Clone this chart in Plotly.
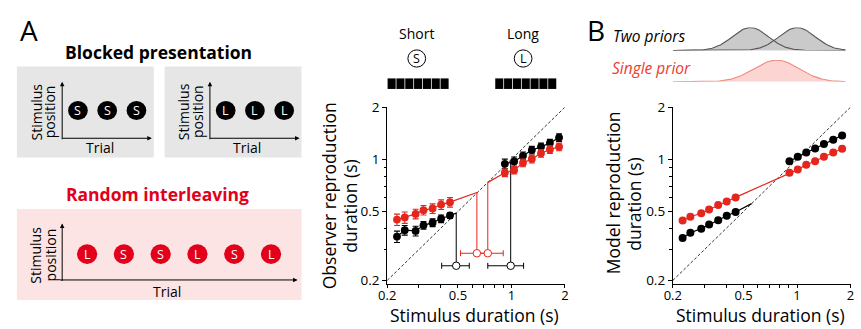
import math
import numpy as np
import plotly.graph_objects as go

W, H = 861, 329
FONT = "Open Sans"
RED = "#e4261d"
RED_TXT = "#e2001a"

# ------------------------- data -------------------------
short_x = [0.227, 0.251, 0.289, 0.320, 0.360, 0.402, 0.451]
A_long_x = [0.918, 1.035, 1.161, 1.302, 1.466, 1.645, 1.853]
B_long_x = [0.906, 1.009, 1.126, 1.263, 1.416, 1.597, 1.792]

A_black_short = [0.358, 0.390, 0.386, 0.416, 0.431, 0.454, 0.474]
A_black_short_err = [0.027, 0.025, 0.025, 0.021, 0.022, 0.023, 0.018]
A_red_short = [0.449, 0.462, 0.484, 0.509, 0.520, 0.548, 0.566]
A_red_short_err = [0.034, 0.035, 0.031, 0.032, 0.033, 0.035, 0.036]
A_black_long = [0.942, 0.971, 1.048, 1.131, 1.180, 1.241, 1.334]
A_black_long_err = [0.060, 0.060, 0.055, 0.057, 0.060, 0.063, 0.068]
A_red_long = [0.837, 0.866, 0.954, 1.004, 1.083, 1.140, 1.180]
A_red_long_err = [0.043, 0.044, 0.048, 0.051, 0.055, 0.058, 0.060]

A_black_mean_x = [0.489, 0.990]
A_black_mean_y = [0.243, 0.243]
A_black_mean_err_minus = [0.084, 0.254]
A_black_mean_err_plus = [0.090, 0.180]
A_black_vline_top = [0.489, 0.960]
A_red_mean_x = [0.639, 0.736]
A_red_mean_y = [0.287, 0.287]
A_red_mean_err_minus = [0.122, 0.097]
A_red_mean_err_plus = [0.097, 0.163]
A_red_vline_top = [0.643, 0.736]

B_black_short = [0.352, 0.377, 0.398, 0.421, 0.445, 0.472, 0.496]
B_red_short = [0.443, 0.466, 0.488, 0.514, 0.545, 0.571, 0.603]
B_black_long = [0.975, 1.035, 1.093, 1.154, 1.226, 1.295, 1.374]
B_red_long = [0.837, 0.872, 0.930, 0.975, 1.035, 1.093, 1.150]
B_black_short_end = 0.555

unity = [0.2, 2.0]
tick_vals = [0.2, 0.5, 1, 2]
tick_text = ["0.2", "0.5", "1", "2"]
minor_vals = [0.3, 0.4, 0.6, 0.7, 0.8, 0.9]

prior_two_means = [0.546, 1.0]
prior_two_sd = 0.10          # in log10 units
prior_single_mean = 0.767
prior_single_sd = 0.125

blocked_labels = [["S", "S", "S"], ["L", "L", "L"]]
random_labels = ["L", "S", "S", "L", "S", "L"]


def px(x):
    return x / W


def py(y):
    return 1 - y / H


fig = go.Figure()


def line(x, y, color, xa, ya, width=1.2, dash=None):
    fig.add_trace(go.Scatter(x=x, y=y, mode="lines", xaxis=xa, yaxis=ya,
                             line=dict(color=color, width=width, dash=dash),
                             hoverinfo="skip", showlegend=False))


def pts(x, y, color, xa, ya, err=None, size=7.8):
    fig.add_trace(go.Scatter(
        x=x, y=y, mode="markers", xaxis=xa, yaxis=ya,
        marker=dict(color=color, size=size, line=dict(width=0)),
        error_y=(dict(type="data", array=err, color=color, thickness=1.1, width=3)
                 if err is not None else None),
        showlegend=False))


# ------------------------- panel A -------------------------
line(unity, unity, "black", "x", "y", width=0.8, dash="3px,2px")
for mx, my, top in zip(A_black_mean_x, A_black_mean_y, A_black_vline_top):
    line([mx, mx], [my, top], "black", "x", "y", width=1)
for mx, my, top in zip(A_red_mean_x, A_red_mean_y, A_red_vline_top):
    line([mx, mx], [my, top], RED, "x", "y", width=1)
line(short_x + [A_black_vline_top[0]], A_black_short + [A_black_vline_top[0]], "black", "x", "y")
line(A_long_x, A_black_long, "black", "x", "y")
line(short_x + [A_red_mean_x[0]], A_red_short + [A_red_vline_top[0]], RED, "x", "y")
line([A_red_mean_x[1]] + A_long_x, [A_red_vline_top[1]] + A_red_long, RED, "x", "y")
pts(short_x, A_black_short, "black", "x", "y", A_black_short_err)
pts(A_long_x, A_black_long, "black", "x", "y", A_black_long_err)
pts(short_x, A_red_short, RED, "x", "y", A_red_short_err)
pts(A_long_x, A_red_long, RED, "x", "y", A_red_long_err)
fig.add_trace(go.Scatter(
    x=A_black_mean_x, y=A_black_mean_y, mode="markers", xaxis="x", yaxis="y",
    marker=dict(color="white", size=7.5, line=dict(color="black", width=1)),
    error_x=dict(type="data", symmetric=False, array=A_black_mean_err_plus,
                 arrayminus=A_black_mean_err_minus, color="black", thickness=1, width=3),
    showlegend=False))
fig.add_trace(go.Scatter(
    x=A_red_mean_x, y=A_red_mean_y, mode="markers", xaxis="x", yaxis="y",
    marker=dict(color="white", size=7.5, line=dict(color=RED, width=1)),
    error_x=dict(type="data", symmetric=False, array=A_red_mean_err_plus,
                 arrayminus=A_red_mean_err_minus, color=RED, thickness=1, width=3),
    showlegend=False))

# ------------------------- panel B -------------------------
line(unity, unity, "black", "x2", "y2", width=0.8, dash="3px,2px")
line(short_x + [B_black_short_end], B_black_short + [B_black_short_end], "black", "x2", "y2")
line(B_long_x, B_black_long, "black", "x2", "y2")
line(short_x + B_long_x, B_red_short + B_red_long, RED, "x2", "y2")
pts(short_x, B_black_short, "black", "x2", "y2", size=8)
pts(B_long_x, B_black_long, "black", "x2", "y2", size=8)
pts(short_x, B_red_short, RED, "x2", "y2", size=8)
pts(B_long_x, B_red_long, RED, "x2", "y2", size=8)

# ------------------------- priors -------------------------
gx = np.logspace(math.log10(0.2), math.log10(1.87), 300)
lg = np.log10(gx)
two = [np.exp(-(lg - math.log10(m)) ** 2 / (2 * prior_two_sd ** 2)) for m in prior_two_means]
single = np.exp(-(lg - math.log10(prior_single_mean)) ** 2 / (2 * prior_single_sd ** 2))
for g in two:
    fig.add_trace(go.Scatter(x=gx, y=g, mode="lines", xaxis="x3", yaxis="y3", fill="tozeroy",
                             fillcolor="#cacaca", line=dict(width=0), showlegend=False))
for g in two:
    fig.add_trace(go.Scatter(x=gx, y=g, mode="lines", xaxis="x3", yaxis="y3",
                             line=dict(color="#555555", width=1.1), showlegend=False))
fig.add_trace(go.Scatter(x=gx, y=single, mode="lines", xaxis="x3", yaxis="y4", fill="tozeroy",
                         fillcolor="#fcd4d1", line=dict(color="#f08a80", width=1.1),
                         showlegend=False))


# ------------------------- axes -------------------------
def axis_style(**kw):
    d = dict(type="log", showgrid=False, zeroline=False, showline=True, linecolor="black",
             linewidth=1, ticks="outside", ticklen=4, tickcolor="black", tickwidth=1,
             tickvals=tick_vals, ticktext=tick_text,
             tickfont=dict(family=FONT, size=13.5, color="black"),
             minor=dict(tickvals=minor_vals, ticks="outside", ticklen=2.5,
                        tickcolor="black", tickwidth=1))
    d.update(kw)
    return d


lo = math.log10(0.2)
hi = math.log10(2)
ydom = [py(287.7), py(102.5)]
yrange = [lo - 4.2 / 181, hi]
xtickfont = dict(family=FONT, size=13, color="black")
fig.update_layout(
    width=W, height=H, margin=dict(l=0, r=0, t=0, b=0),
    paper_bgcolor="white", plot_bgcolor="rgba(0,0,0,0)",
    font=dict(family=FONT, color="black"),
    xaxis=axis_style(domain=[px(384), px(564.5)], range=[lo, hi], anchor="y", ticklen=3,
                     ticklabelstandoff=-4, tickfont=xtickfont),
    yaxis=axis_style(domain=ydom, range=yrange, anchor="x"),
    xaxis2=axis_style(domain=[px(674), px(854.5)], range=[lo, hi], anchor="y2", ticklen=3,
                      ticklabelstandoff=-4, tickfont=xtickfont),
    yaxis2=axis_style(domain=ydom, range=yrange, anchor="x2"),
    xaxis3=dict(type="log", domain=[px(674), px(854.5)], range=[lo, hi], visible=False, anchor="y3"),
    yaxis3=dict(domain=[py(43.3), py(19.3)], range=[0, 1], visible=False, anchor="x3"),
    yaxis4=dict(domain=[py(76), py(53.3)], range=[0, 1], visible=False, anchor="x3"),
)

# ------------------------- shapes -------------------------
shapes = []


def rect(x0, y0, x1, y1, fill, layer="below"):
    shapes.append(dict(type="rect", xref="paper", yref="paper",
                       x0=px(x0), x1=px(x1), y0=py(y1), y1=py(y0),
                       fillcolor=fill, line=dict(color=fill, width=0), layer=layer))


def circle(cx, cy, r, fill, lc, lw=0):
    shapes.append(dict(type="circle", xref="paper", yref="paper",
                       x0=px(cx - r), x1=px(cx + r), y0=py(cy + r), y1=py(cy - r),
                       fillcolor=fill, line=dict(color=lc, width=lw), layer="above"))


rect(8, 60, 147, 155, "#e6e6e6")
rect(158, 60, 297, 155, "#e6e6e6")
rect(8, 209, 297, 304, "#fde4e4")

anns = []


def text(x, y, s, size, color="black", bold=False, angle=0, italic=False, xanchor="center"):
    t = s
    if bold:
        t = "<b>" + t + "</b>"
    if italic:
        t = "<i>" + t + "</i>"
    anns.append(dict(x=px(x), y=py(y), xref="paper", yref="paper", text=t, showarrow=False,
                     textangle=angle, xanchor=xanchor, yanchor="middle",
                     font=dict(family=FONT, size=size, color=color)))


def arrow(hx, hy, tx, ty):
    anns.append(dict(x=px(hx), y=py(hy), xref="paper", yref="paper", text="",
                     showarrow=True, ax=tx - hx, ay=ty - hy, axref="pixel", ayref="pixel",
                     arrowhead=2, arrowsize=0.9, arrowwidth=1, arrowcolor="black"))


for ox, labels in [(0, blocked_labels[0]), (150, blocked_labels[1])]:
    arrow(54 + ox, 76, 54 + ox, 135)
    arrow(145 + ox, 135, 54 + ox, 135)
    text(28 + ox, 107.5, "Stimulus", 14, angle=-90)
    text(42 + ox, 107.5, "position", 14, angle=-90)
    text(92 + ox, 145, "Trial", 14)
    for i, lab in enumerate(labels):
        cx = 70 + ox + i * 29.7
        circle(cx, 106, 10, "black", "black")
        text(cx, 106, lab, 12.5, color="white")

arrow(54, 224, 54, 283)
arrow(293, 283, 54, 283)
text(26, 257, "Stimulus", 14, angle=-90)
text(42, 257, "position", 14, angle=-90)
text(160, 295, "Trial", 14)
for i, lab in enumerate(random_labels):
    cx = 79.3 + i * 37.35
    circle(cx, 256, 10.3, RED_TXT, RED_TXT)
    text(cx, 256, lab, 12.5, color="white")

text(20, 22, "A", 28)
text(152, 45, "Blocked presentation", 17.5, bold=True)
text(151, 193, "Random interleaving", 17.5, color=RED_TXT, bold=True)

text(414, 26, "Short", 14)
text(522, 26, "Long", 14)
circle(414, 51.7, 9, "white", "black", 1)
circle(522, 51.7, 9, "white", "black", 1)
text(414, 51.7, "S", 12.5)
text(522, 51.7, "L", 12.5)
for x0 in (384, 493.3):
    for i in range(7):
        rect(x0 + i * 8.96 + 0.4, 72.5, x0 + i * 8.96 + 8.6, 83.5, "black", layer="above")

text(325, 195.5, "Observer reproduction", 17.5, angle=-90)
text(346.7, 206, "duration (s)", 17.5, angle=-90)
text(473, 319.5, "Stimulus duration (s)", 17.5)
text(613, 191.7, "Model reproduction", 17.5, angle=-90)
text(635, 204, "duration (s)", 17.5, angle=-90)
text(763, 319.5, "Stimulus duration (s)", 17.5)

text(596, 22, "B", 28)
text(650, 28, "Two priors", 15.5, italic=True)
text(652, 62, "Single prior", 15.5, color="#ee3a2e", italic=True)

fig.update_layout(shapes=shapes, annotations=anns)
fig.write_html("out.html", config={"displayModeBar": False},
               post_script="document.body.style.margin='0';document.body.style.padding='0';")
